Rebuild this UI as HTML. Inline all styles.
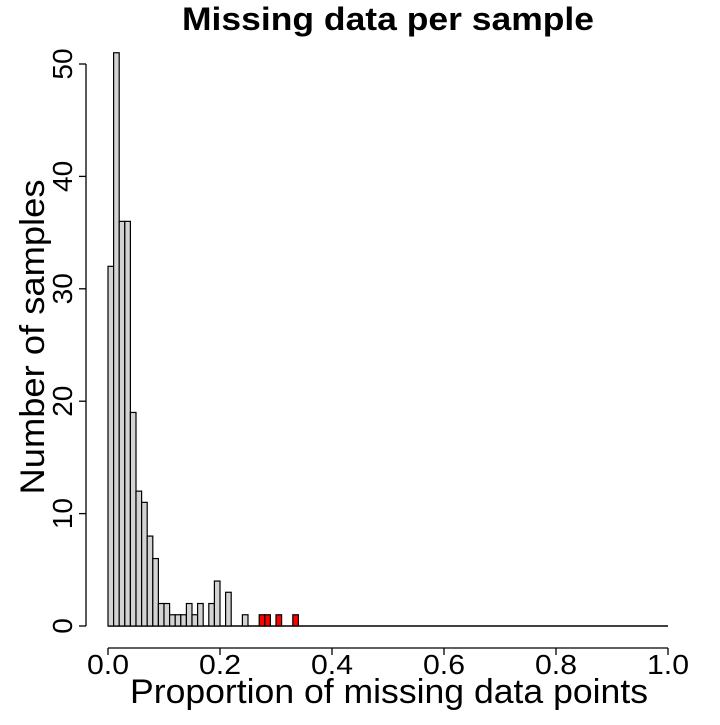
<!DOCTYPE html>
<html><head><meta charset="utf-8"><style>
body{margin:0;background:#fff}
svg text{font-family:"Liberation Sans",sans-serif;fill:#000}
</style></head><body>
<svg id="chart" width="720" height="720">
<text x="388" y="30" text-anchor="middle" font-size="32" font-weight="bold" textLength="412" lengthAdjust="spacingAndGlyphs">Missing data per sample</text>
<text x="389" y="703" text-anchor="middle" font-size="34" textLength="518" lengthAdjust="spacingAndGlyphs">Proportion of missing data points</text>
<text transform="translate(44,337) rotate(-90)" text-anchor="middle" font-size="34" textLength="315" lengthAdjust="spacingAndGlyphs">Number of samples</text>
<g id="bars"></g>
<g id="axes"></g>
</svg>
<script>
const counts=[32,51,36,36,19,12,11,8,6,2,2,1,1,1,2,1,2,0,2,4,0,3,0,0,1,0,0,1,1,0,1,0,0,1];
const redBins=[27,28,30,33];
const xTicks=[0,0.2,0.4,0.6,0.8,1.0];
const xTickLabels=["0.0","0.2","0.4","0.6","0.8","1.0"];
const yTicks=[0,10,20,30,40,50];
const binWidth=0.01;
const NS="http://www.w3.org/2000/svg";
const X=v=>108+v*560;
const Y=v=>626-v*11.24;
const bars=document.getElementById('bars'),axes=document.getElementById('axes');
function mk(tag,attrs,parent){const e=document.createElementNS(NS,tag);for(const k in attrs)e.setAttribute(k,attrs[k]);parent.appendChild(e);return e;}
const bl=mk('line',{x1:X(0),x2:X(1),y1:Y(0),y2:Y(0),stroke:'#000','stroke-width':1.5},bars);


counts.forEach((c,i)=>{
  if(c<=0)return;
  const x0=X(i*binWidth),x1=X((i+1)*binWidth);
  const r=mk('rect',{x:x0,y:Y(c),width:x1-x0,height:Y(0)-Y(c),fill:redBins.includes(i)?'#ff0000':'#d3d3d3',stroke:'#000','stroke-width':1.2},bars);
  
  
});
const xa=mk('line',{x1:X(0),x2:X(1),y1:648,y2:648,stroke:'#000','stroke-width':1.3},axes);


xTicks.forEach((t,i)=>{
  mk('line',{x1:X(t),x2:X(t),y1:648,y2:655,stroke:'#000','stroke-width':1.3},axes);
  const tx=mk('text',{x:X(t),y:674,'text-anchor':'middle','font-size':28,textLength:42,lengthAdjust:'spacingAndGlyphs'},axes);
  tx.textContent=xTickLabels[i];
  
  
});
const ya=mk('line',{x1:86,x2:86,y1:Y(0),y2:Y(50),stroke:'#000','stroke-width':1.3},axes);


yTicks.forEach(t=>{
  mk('line',{x1:79,x2:86,y1:Y(t),y2:Y(t),stroke:'#000','stroke-width':1.3},axes);
  const tx=mk('text',{transform:`translate(72,${Y(t)}) rotate(-90)`,'text-anchor':'middle','font-size':28},axes);
  tx.textContent=String(t);
  
  
});
</script>
</body></html>
